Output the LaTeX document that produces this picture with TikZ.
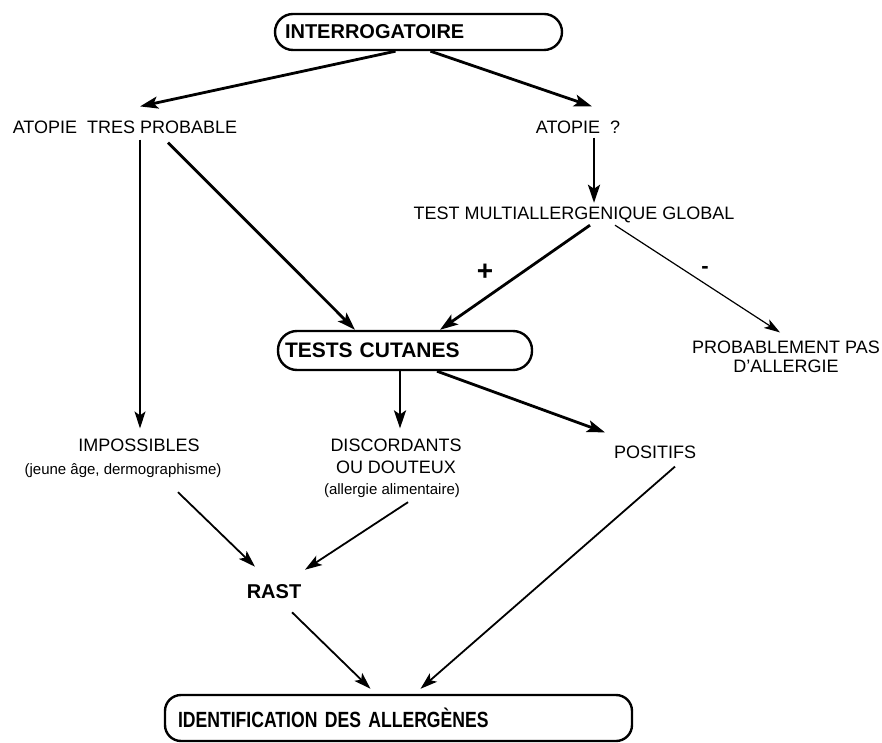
\documentclass[tikz,border=0pt]{standalone}
\usepackage{fontspec}
\setmainfont{Liberation Sans}
\newfontfamily\condfont[FakeStretch=0.8]{Liberation Sans}
\usetikzlibrary{arrows.meta}
\begin{document}
\begin{tikzpicture}[
    x=1pt, y=1pt,
    lbl/.style={font=\fontsize{18pt}{22pt}\selectfont, inner sep=2pt, align=center},
    note/.style={font=\fontsize{15pt}{18pt}\selectfont, inner sep=2pt, align=center},
    box/.style={draw, line width=2.4pt, align=left, font=\bfseries\fontsize{20pt}{24pt}\selectfont},
    arr/.style={-{Stealth[length=18pt, width=12pt, inset=4pt]}, line width=2.8pt},
    arrm/.style={-{Stealth[length=17pt, width=11pt, inset=4pt]}, line width=1.8pt},
    arrt/.style={-{Stealth[length=16pt, width=10pt, inset=4pt]}, line width=1.2pt}
]
    \useasboundingbox (0,0) rectangle (882,742);

    % Boxes
    \node[box, rounded corners=18pt, minimum height=36pt, inner xsep=10pt, text width=267pt] (intg) at (418.5,710) {INTERROGATOIRE};
    \node[box, rounded corners=19pt, minimum height=39pt, inner xsep=7pt, text width=240pt, font=\bfseries\fontsize{21pt}{24pt}\selectfont] (tc) at (405,391.5) {TESTS CUTANES};
    \node[box, rounded corners=16pt, minimum height=46pt, inner xsep=13pt, text width=441pt, font=\condfont\bfseries\fontsize{22pt}{24pt}\selectfont] (ident) at (398.5,24) {IDENTIFICATION DES ALLERG\`ENES};

    % Labels
    \node[lbl] (atp) at (125,615) {ATOPIE\ \ TRES PROBABLE};
    \node[lbl] (atq) at (578,615) {ATOPIE\ \ ?};
    \node[lbl] (tmg) at (574,527) {TEST MULTIALLERGENIQUE GLOBAL};
    \node[lbl, font=\fontsize{18pt}{19pt}\selectfont] (pas) at (786,385.5) {PROBABLEMENT PAS\\D'ALLERGIE};
    \node[lbl] (imp) at (139,297) {IMPOSSIBLES};
    \node[note] (impnote) at (123,271) {(jeune \^age, dermographisme)};
    \node[lbl] (disc) at (396,286) {DISCORDANTS\\OU DOUTEUX};
    \node[note] (discnote) at (392,251) {(allergie alimentaire)};
    \node[lbl] (pos) at (655,290) {POSITIFS};
    \node[lbl, font=\bfseries\fontsize{20pt}{24pt}\selectfont] (rast) at (274,150) {RAST};

    % Signs
    \node[font=\bfseries\fontsize{28pt}{30pt}\selectfont] (plus) at (485,470) {+};
    \node[font=\bfseries\fontsize{22pt}{24pt}\selectfont] (minus) at (705,472) {-};

    % Arrows
    \draw[arr] ([xshift=-23pt]intg.south) -- ([xshift=15pt,yshift=12pt]atp.north);
    \draw[arr] ([xshift=12pt]intg.south) -- ([xshift=14pt,yshift=12pt]atq.north);
    \draw[arr] ([xshift=16pt,yshift=-2pt]atq.south) -- ([xshift=20pt,yshift=2pt]tmg.north);
    \draw[arr] ([xshift=16pt]tmg.south) -- ([xshift=35pt]tc.north);
    \draw[arrt] ([xshift=41pt]tmg.south) -- ([xshift=-6pt,yshift=6pt]pas.north);
    \draw[arrm] ([xshift=15pt,yshift=-4pt]atp.south) -- ([xshift=1pt,yshift=8pt]imp.north);
    \draw[arr] ([xshift=43pt,yshift=-7pt]atp.south) -- ([xshift=-50pt]tc.north);
    \draw[arr] ([xshift=-5pt]tc.south) -- ([xshift=4pt,yshift=8pt]disc.north);
    \draw[arr] ([xshift=32pt]tc.south) -- ([xshift=-50pt,yshift=11pt]pos.north);
    \draw[arrm] ([xshift=55pt,yshift=-12pt]impnote.south) -- ([xshift=-19pt,yshift=16pt]rast.north);
    \draw[arrm] ([xshift=16pt,yshift=-2pt]discnote.south) -- ([xshift=31pt,yshift=13pt]rast.north);
    \draw[arrm] ([xshift=18pt,yshift=-11pt]rast.south) -- ([xshift=-28pt,yshift=5pt]ident.north);
    \draw[arrm] ([xshift=20pt,yshift=-6pt]pos.south) -- ([xshift=22pt,yshift=5pt]ident.north);
\end{tikzpicture}
\end{document}
